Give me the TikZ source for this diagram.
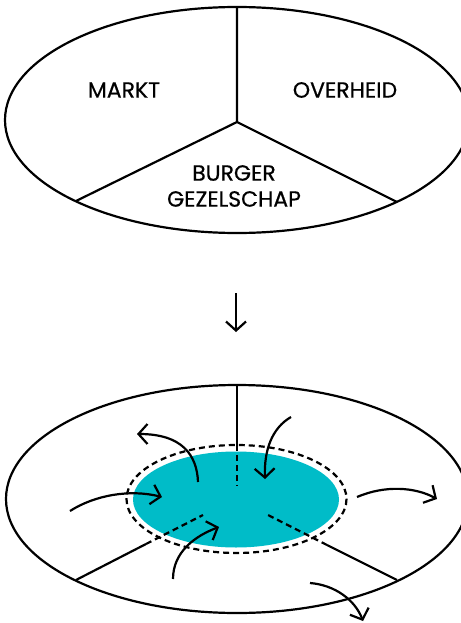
\documentclass[tikz,border=0pt]{standalone}
\usepackage{fontspec}
\setmainfont{Poppins}[FakeBold=0.6]
\usetikzlibrary{arrows.meta}
\definecolor{teal1}{HTML}{00BCC8}
\begin{document}
\begin{tikzpicture}[x=1pt,y=-1pt,
  ln/.style={line width=2.2pt,black},
  dl/.style={line width=2.2pt,black,dash pattern=on 6pt off 4pt},
  arr/.style={line width=2.2pt,-{Straight Barb[length=9pt,width=20pt,line width=2.2pt]}},
  lbl/.style={font=\fontsize{22}{26}\selectfont,align=center,inner sep=0pt}]
\useasboundingbox (0,0) rectangle (460,623);
% top ellipse
\coordinate (tc) at (237,122);
\draw[ln] (237,120) ellipse [x radius=232, y radius=113];
\draw[ln] (237,7) -- (tc) -- (76,201);
\draw[ln] (tc) -- (397,202);
\node[lbl] (markt) at (124,90) {MARKT};
\node[lbl] (overheid) at (345,90) {OVERHEID};
\node[lbl] (burger) at (234,186) {BURGER\\GEZELSCHAP};
% down arrow
\coordinate (a1) at (236,293);
\coordinate (a2) at (236,332);
\draw[arr] (a1) -- (a2);
% bottom ellipse
\draw[ln] (237,499) ellipse [x radius=231, y radius=114];
\fill[teal1] (236,499.5) ellipse [x radius=103, y radius=48];
\draw[dl] (236.5,499) ellipse [x radius=110, y radius=54];
\coordinate (bt) at (237,385);
\coordinate (bti) at (237,445);
\coordinate (btc) at (237,486);
\draw[ln] (bt) -- (bti);
\draw[dl] (bti) -- (btc);
\coordinate (bl) at (76,580);
\coordinate (bli) at (146,544);
\coordinate (blc) at (203,515);
\draw[ln] (bl) -- (bli);
\draw[dl] (bli) -- (blc);
\coordinate (br) at (397,580);
\coordinate (bri) at (327,545);
\coordinate (brc) at (268,515);
\draw[ln] (br) -- (bri);
\draw[dl] (bri) -- (brc);
% curved arrows
\draw[arr] (198,482) .. controls (197,455) and (182,434) .. (137,434);
\draw[arr] (291,417) .. controls (272,428) and (264,450) .. (265,479);
\draw[arr] (70,511) .. controls (95,495) and (130,489) .. (162,497);
\draw[arr] (173,579) .. controls (173,552) and (195,536) .. (219,527);
\draw[arr] (357,497) .. controls (385,485) and (415,487) .. (437,499);
\draw[arr] (310,583) .. controls (335,585) and (355,600) .. (363,621);
\end{tikzpicture}
\end{document}
